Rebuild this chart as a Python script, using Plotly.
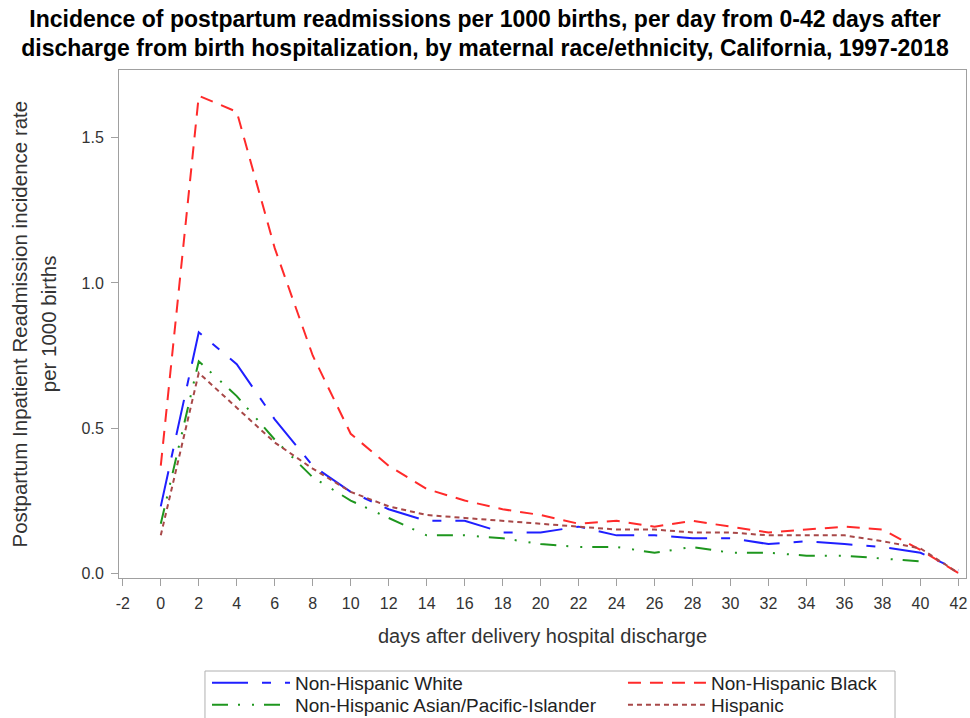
import plotly.graph_objects as go

days = list(range(0, 43, 2))

white = [0.23, 0.83, 0.72, 0.53, 0.37, 0.28, 0.22, 0.18, 0.18, 0.14, 0.14, 0.16,
         0.13, 0.13, 0.12, 0.12, 0.10, 0.11, 0.10, 0.09, 0.07, 0.01]
black = [0.37, 1.645, 1.59, 1.12, 0.75, 0.48, 0.37, 0.29, 0.25, 0.22, 0.20, 0.17,
         0.18, 0.16, 0.18, 0.16, 0.14, 0.15, 0.16, 0.15, 0.08, 0.0]
asian = [0.17, 0.73, 0.61, 0.46, 0.33, 0.25, 0.19, 0.13, 0.13, 0.12, 0.10, 0.09,
         0.09, 0.07, 0.09, 0.07, 0.07, 0.06, 0.06, 0.05, 0.04]
hispanic = [0.13, 0.69, 0.57, 0.45, 0.36, 0.28, 0.23, 0.20, 0.19, 0.18, 0.17, 0.16,
            0.15, 0.15, 0.14, 0.14, 0.13, 0.13, 0.13, 0.11, 0.085, 0.0]

names = ["Non-Hispanic White", "Non-Hispanic Black",
         "Non-Hispanic Asian/Pacific-Islander", "Hispanic"]
x_ticks = list(range(-2, 43, 2))
y_ticks = [0.0, 0.5, 1.0, 1.5]

# (name, values, colour, dash, legend slot)
series = [
    (names[0], white, "#1f1fff", "36px,14px,9px,14px", "legend"),
    (names[1], black, "#ff2a2a", "13px,9px", "legend2"),
    (names[2], asian, "#1e961e", "16px,10px,2px,12px,2px,10px", "legend3"),
    (names[3], hispanic, "#a84848", "5px,4px", "legend4"),
]

fig = go.Figure()
for name, vals, color, dash, leg in series:
    fig.add_trace(go.Scatter(
        x=days[:len(vals)], y=vals, mode="lines", name=name, legend=leg,
        line=dict(color=color, width=2, dash=dash),
    ))

font_family = "Liberation Sans, Arial, sans-serif"
axis_gray = "#a0a0a0"
text_gray = "#333333"

legend_common = dict(
    orientation="v", xref="paper", yref="container",
    xanchor="left", yanchor="top",
    borderwidth=0, bgcolor="rgba(0,0,0,0)",
    font=dict(family=font_family, size=19, color="#222222"),
    itemwidth=78, tracegroupgap=0,
)
col1_x, col2_x = 0.1039, 0.5950
row1_y, row2_y = 0.0752, 0.0446

fig.update_layout(
    width=970, height=718,
    margin=dict(l=119, r=4, t=70, b=140),
    paper_bgcolor="white", plot_bgcolor="white",
    font=dict(family=font_family, size=16, color=text_gray),
    title=dict(
        text="<b>Incidence of postpartum readmissions per 1000 births, per day from 0-42 days after<br>"
             "discharge from birth hospitalization, by maternal race/ethnicity, California, 1997-2018</b>",
        x=0.5, xanchor="center", xref="container",
        y=0.963, yanchor="middle", yref="container",
        font=dict(family=font_family, size=23, color="black"),
    ),
    xaxis=dict(
        range=[-2.2, 42.4], tickvals=x_ticks, ticktext=[str(v) for v in x_ticks],
        showline=True, mirror=True, linecolor=axis_gray, linewidth=1,
        ticks="outside", ticklen=7, tickcolor=axis_gray, ticklabelstandoff=4,
        showgrid=False, zeroline=False, automargin=False,
        tickfont=dict(size=16, color=text_gray),
        title=dict(text="days after delivery hospital discharge",
                   font=dict(size=20, color=text_gray), standoff=17),
    ),
    yaxis=dict(
        range=[-0.017, 1.734], tickvals=y_ticks, tickformat=".1f",
        showline=True, mirror=True, linecolor=axis_gray, linewidth=1,
        ticks="outside", ticklen=7, tickcolor=axis_gray, ticklabelstandoff=4,
        showgrid=False, zeroline=False, automargin=False,
        tickfont=dict(size=16, color=text_gray),
    ),
    legend=dict(x=col1_x, y=row1_y, **legend_common),
    legend2=dict(x=col2_x, y=row1_y, **legend_common),
    legend3=dict(x=col1_x, y=row2_y, **legend_common),
    legend4=dict(x=col2_x, y=row2_y, **legend_common),
    showlegend=True,
)

# frame around the legend entries
fig.add_shape(
    type="rect", xref="paper", yref="paper",
    x0=0.1015, x1=0.9162, y0=-0.1831, y1=-0.30,
    line=dict(color="#b0b0b0", width=1), fillcolor="rgba(0,0,0,0)", layer="below",
)

fig.add_annotation(
    text="Postpartum Inpatient Readmission incidence rate",
    xref="paper", yref="paper", x=-0.1175, y=0.5, textangle=-90,
    showarrow=False, xanchor="center", yanchor="middle",
    font=dict(family=font_family, size=20.5, color=text_gray),
)
fig.add_annotation(
    text="per 1000 births",
    xref="paper", yref="paper", x=-0.0835, y=0.5, textangle=-90,
    showarrow=False, xanchor="center", yanchor="middle",
    font=dict(family=font_family, size=20.5, color=text_gray),
)

fig.write_html(
    "out.html",
    config={"displayModeBar": False},
    post_script="document.body.style.margin='0';",
)
